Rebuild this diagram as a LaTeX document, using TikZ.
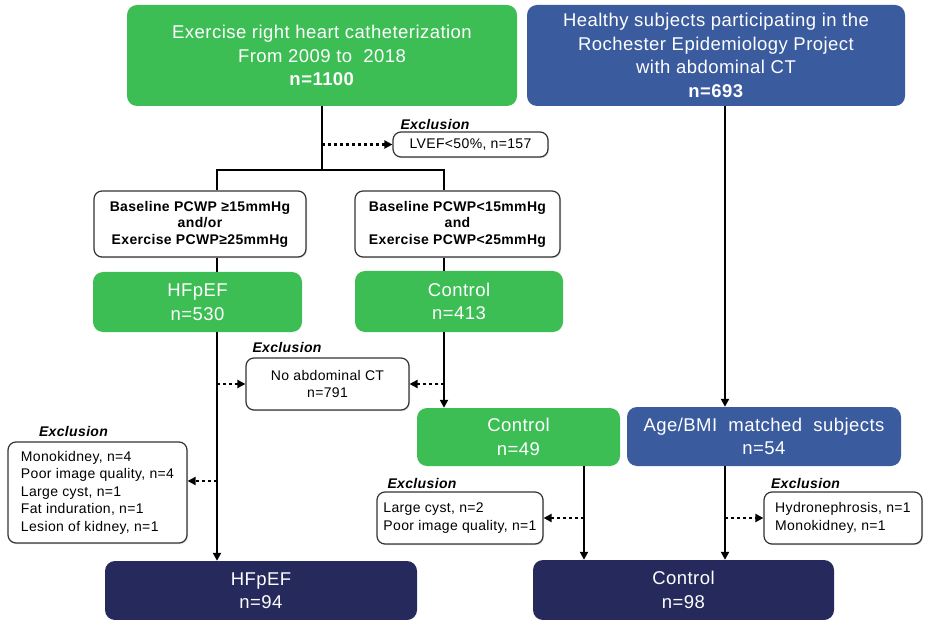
\documentclass[tikz,border=0pt]{standalone}
\usepackage{fontspec}
\setmainfont{Liberation Sans}[LetterSpace=2.5]
\usetikzlibrary{arrows.meta,shadows}
\definecolor{cgreen}{RGB}{60,190,85}
\definecolor{cblue}{RGB}{58,91,158}
\definecolor{cnavy}{RGB}{38,41,92}
\begin{document}
\begin{tikzpicture}[x=1pt,y=-1pt,
  box/.style={rounded corners=10pt, inner sep=0pt, align=center, text=white,
    font=\fontsize{18.5}{23.5}\selectfont},
  gbox/.style={box, fill=cgreen},
  bbox/.style={box, fill=cblue},
  nbox/.style={box, fill=cnavy},
  wbox/.style={draw=black!80, line width=1.2pt, fill=white, rounded corners=8pt,
    inner sep=0pt, drop shadow={opacity=0.25, shadow xshift=1pt, shadow yshift=-1.2pt}},
  crit/.style={wbox, align=center, font=\bfseries\fontsize{14}{16.5}\selectfont},
  excl/.style={wbox, font=\fontsize{14}{17.5}\selectfont},
  lab/.style={font=\bfseries\itshape\fontsize{14}{16}\selectfont, inner sep=0pt},
  conn/.style={line width=2.4pt},
  arr/.style={conn, -{Triangle[length=8pt,width=8pt]}},
  dotarr/.style={line width=2.4pt, dash pattern=on 3pt off 3pt, -{Triangle[length=8pt,width=8pt]}},
]
\useasboundingbox (0,0) rectangle (926,620);

% coordinates for vertical connector lines
\coordinate (lx) at (217,0);
\coordinate (rx) at (444,0);
\coordinate (cx) at (584,0);
\coordinate (bx) at (725,0);
\coordinate (j) at (322,170);
\coordinate (yL) at (0,481);

% top boxes
\node[gbox, minimum width=390pt, minimum height=101pt] (top) at (322,55.5)
  {Exercise right heart catheterization\\From 2009 to \ 2018\\\textbf{n=1100}};
\node[bbox, minimum width=378pt, minimum height=101pt] (rep) at (716,55.5)
  {Healthy subjects participating in the\\Rochester Epidemiology Project\\with abdominal CT\\\textbf{n=693}};

% LVEF exclusion
\node[lab] (ex1) at (435,124) {Exclusion};
\node[excl, align=center, minimum width=155pt, minimum height=25pt] (lvef) at (470.5,144.5) {LVEF<50\%, n=157};

% criteria boxes
\node[crit, minimum width=212pt, minimum height=66pt] (crit1) at (200,224)
  {Baseline PCWP ≥15mmHg\\and/or\\Exercise PCWP≥25mmHg};
\node[crit, minimum width=205pt, minimum height=66pt] (crit2) at (457.5,224)
  {Baseline PCWP<15mmHg\\and\\Exercise PCWP<25mmHg};

% HFpEF / Control green
\node[gbox, minimum width=209pt, minimum height=60pt] (hf1) at (197.5,302) {HFpEF\\n=530};
\node[gbox, minimum width=208pt, minimum height=61pt] (ctl1) at (459,301.5) {Control\\n=413};

% No abdominal CT
\node[lab] (ex2) at (287,347) {Exclusion};
\node[excl, align=center, minimum width=163pt, minimum height=52pt] (noct) at (327.5,384)
  {No abdominal CT\\n=791};

% left exclusion
\node[lab] (ex3) at (73.5,431) {Exclusion};
\node[excl, align=left, minimum width=179pt, minimum height=101pt] (exL) at (97.5,492.5)
  {Monokidney, n=4\\Poor image quality, n=4\\Large cyst, n=1\\Fat induration, n=1\\Lesion of kidney, n=1};

% Control 2 and Age/BMI
\node[gbox, minimum width=203pt, minimum height=58pt] (ctl2) at (518.5,437) {Control\\n=49};
\node[bbox, minimum width=274pt, minimum height=59pt] (age) at (764,436.5) {Age/BMI \ matched \ subjects\\n=54};

% exclusions lower
\node[lab] (ex4) at (422,483) {Exclusion};
\node[excl, align=left, minimum width=166pt, minimum height=52pt] (exC) at (460,518)
  {Large cyst, n=2\\Poor image quality, n=1};
\node[lab] (ex5) at (805.5,483) {Exclusion};
\node[excl, align=left, minimum width=158pt, minimum height=52pt] (exA) at (843,518)
  {Hydronephrosis, n=1\\Monokidney, n=1};

% bottom boxes
\node[nbox, minimum width=312pt, minimum height=59pt] (hfB) at (261,590.5) {HFpEF\\n=94};
\node[nbox, minimum width=301pt, minimum height=60pt] (ctlB) at (683.5,590) {Control\\n=98};

% connectors
\draw[conn] (top.south) -- (j);
\draw[conn] (crit1.north -| lx) |- (j) -| (crit2.north -| rx);
\draw[dotarr] (j |- lvef.west) -- (lvef.west);
\draw[conn] (crit1.south -| lx) -- (hf1.north -| lx);
\draw[conn] (crit2.south -| rx) -- (ctl1.north -| rx);
\draw[arr] (hf1.south -| lx) -- (hfB.north -| lx);
\draw[arr] (ctl1.south -| rx) -- (ctl2.north -| rx);
\draw[dotarr] (noct.west -| lx) -- (noct.west);
\draw[dotarr] (noct.east -| rx) -- (noct.east);
\draw[dotarr] (yL -| lx) -- (yL -| exL.east);
\draw[arr] (ctl2.south -| cx) -- (ctlB.north -| cx);
\draw[dotarr] (exC.east -| cx) -- (exC.east);
\draw[arr] (rep.south -| bx) -- (age.north -| bx);
\draw[arr] (age.south -| bx) -- (ctlB.north -| bx);
\draw[dotarr] (exA.west -| bx) -- (exA.west);
\end{tikzpicture}
\end{document}
